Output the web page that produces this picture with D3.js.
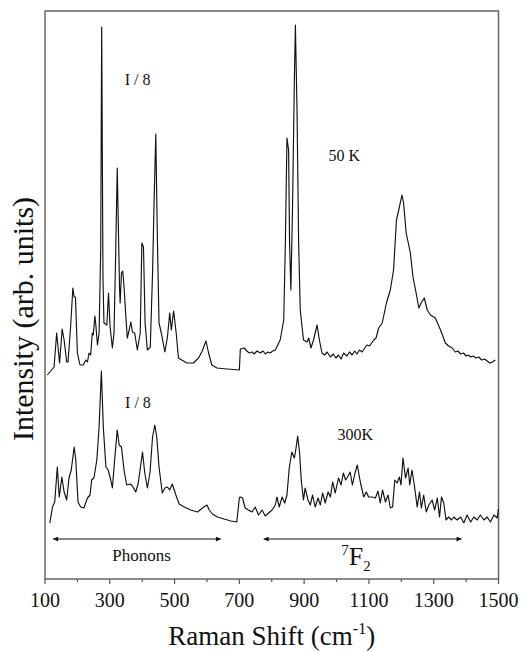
<!DOCTYPE html>
<html>
<head>
<meta charset="utf-8" />
<title>Raman spectra 50 K / 300 K</title>
<script src="https://d3js.org/d3.v7.min.js"></script>
<style>
  body { margin: 0; background: #fff; }
  svg text { font-family: "Liberation Serif", "Times New Roman", serif; }
  .frame { fill: none; stroke: #666; stroke-width: 1.5; }
  .spec { fill: none; stroke: #111; stroke-width: 1.15; stroke-linejoin: round; }
</style>
</head>
<body>
<svg id="chart" width="524" height="652"></svg>
<script>
// Raman shift (cm-1) and intensity (arb. units)
var shift50 = [107,128,136,145,153,159,167,171,179,186,190,194,200,208,218,226,231,236,241,246,249,254,257,262,267,272,275,279,282,
  291,296,301,308,313,318,323,330,332,336,340,344,349,354,360,365,370,377,385,394,399,404,409,416,425,432,437,442,447,452,459,470,478,485,490,497,505,512,522,538,558,574,584,597,605,615,631,662,700,
  703,715,723,731,739,746,754,765,773,780,788,795,803,811,826,837,842,847,852,855,859,864,870,873,878,883,888,898,909,914,921,929,940,947,955,963,971,981,990,998,1006,1014,1022,1032,1040,1048,1056,1063,1071,1079,1087,1094,
  1102,1108,1115,1122,1130,1141,1154,1166,1176,1185,1192,1202,1207,1215,1228,1236,1244,1254,1261,1271,1280,1290,1305,1321,1336,1346,1357,1367,1375,1383,1392,1400,1407,1414,1422,1430,1439,1448,1457,1465,1473,1481,1490,1500];
var int50 = [204,212,246,216,250,239,217,217,252,291,282,282,226,214,214,219,217,226,224,246,244,263,254,234,246,330,552,300,256,
  254,286,252,231,246,322,411,292,276,306,308,292,266,241,249,257,247,246,229,246,336,332,256,229,232,306,380,445,339,256,246,227,242,266,249,268,246,221,219,216,216,221,227,238,226,214,211,210,209,
  230,231,228,226,227,225,228,226,228,225,227,226,228,229,239,259,336,441,429,336,289,369,502,554,469,336,269,239,237,241,231,239,254,239,226,224,227,222,225,221,224,220,226,223,227,224,228,225,229,227,231,234,
  233,236,239,241,251,256,276,289,309,359,369,384,376,346,326,302,289,271,276,281,269,264,261,249,236,233,231,227,228,225,226,223,224,222,223,221,222,219,220,218,216,217,219];

var shift300 = [115,123,130,138,144,152,159,167,174,181,190,195,202,210,220,231,239,244,251,260,267,274,280,288,295,303,308,315,323,329,336,344,352,363,370,380,388,401,408,416,424,432,439,445,452,462,470,478,485,493,504,514,530,550,571,586,600,607,617,632,653,674,692,
  700,703,710,718,728,739,749,759,770,780,790,801,811,816,823,832,840,847,854,862,870,875,880,886,891,898,903,912,919,926,934,943,950,957,965,974,981,988,996,1006,1014,1021,1028,1034,1042,1049,1057,1064,1074,1084,1092,1099,1110,1120,1128,1135,1142,1151,1159,1166,1173,1180,1187,1194,1199,1205,1213,1221,1226,1233,1241,1249,1256,1262,1269,1277,1285,1295,1303,1311,1318,1324,1331,1338,1346,1355,1362,1372,1383,1393,1403,1414,1424,1434,1444,1455,1465,1475,1486,1496,1500];
var int300 = [56,72,77,112,82,102,87,79,101,109,132,119,77,72,71,81,84,99,101,119,152,208,152,112,109,99,91,119,149,134,132,109,94,95,93,87,96,127,106,91,106,142,154,142,112,86,91,92,89,95,84,75,72,69,67,71,74,69,65,62,60,58,57,
  81,82,81,71,69,67,72,64,69,63,66,69,74,82,72,82,76,84,111,127,121,131,143,126,99,79,91,79,74,84,72,81,74,86,76,87,82,97,86,101,94,106,99,102,107,94,106,114,96,82,87,82,82,81,88,76,89,77,84,71,72,99,96,102,94,121,101,111,94,109,92,72,87,71,84,67,74,79,69,81,62,82,76,59,62,59,62,59,62,56,64,57,62,59,64,59,62,57,64,61,70];

var xTicks = [100,300,500,700,900,1100,1300,1500];
var xMinor = [200,400,600,800,1000,1200,1400];

var labels = [
  {text: "I / 8", x: 386, y: 494},
  {text: "50 K", x: 1024, y: 418},
  {text: "I / 8", x: 387, y: 171},
  {text: "300K", x: 1058, y: 139}
];
var phonons = [125, 643];
var f2 = [775, 1386];

var svg = d3.select("#chart"),
    margin = {top: 11, left: 45, right: 25.5, bottom: 73},
    W = 524, H = 652;

var x = d3.scaleLinear().domain([100, 1500]).range([margin.left, W - margin.right]);
var y = d3.scaleLinear().domain([0, 568]).range([H - margin.bottom, margin.top]);

var defs = svg.append("defs");
defs.append("marker")
    .attr("id", "head")
    .attr("viewBox", "0 0 10 10")
    .attr("refX", 10).attr("refY", 5)
    .attr("markerWidth", 10).attr("markerHeight", 5)
    .attr("orient", "auto-start-reverse")
    .attr("markerUnits", "userSpaceOnUse")
  .append("path")
    .attr("d", "M0,0 L10,5 L0,10 Z")
    .attr("fill", "#111");

// frame
svg.append("rect").attr("class", "frame")
    .attr("x", x(100)).attr("y", y(568))
    .attr("width", x(1500) - x(100)).attr("height", y(0) - y(568));

// x ticks
var yb = y(0);
svg.selectAll(".tk").data(xTicks).enter().append("line")
    .attr("x1", function(d) { return x(d); }).attr("x2", function(d) { return x(d); })
    .attr("y1", yb).attr("y2", yb + 5)
    .attr("stroke", "#555").attr("stroke-width", 1.2);
svg.selectAll(".mtk").data(xMinor).enter().append("line")
    .attr("x1", function(d) { return x(d); }).attr("x2", function(d) { return x(d); })
    .attr("y1", yb).attr("y2", yb + 3)
    .attr("stroke", "#555").attr("stroke-width", 1.2);
svg.selectAll(".tl").data(xTicks).enter().append("text")
    .attr("x", function(d) { return x(d); })
    .attr("y", 607)
    .attr("text-anchor", "middle")
    .style("font-size", "20px")
    .style("fill", "#111")
    .text(function(d) { return d; });

// axis titles
var xt = svg.append("text")
    .attr("x", (x(100) + x(1500)) / 2).attr("y", 645)
    .attr("text-anchor", "middle")
    .style("font-size", "27px")
    .style("fill", "#111");
xt.append("tspan").text("Raman Shift (cm");
xt.append("tspan").attr("dy", -11).style("font-size", "16px").text("-1");
xt.append("tspan").attr("dy", 11).text(")");

svg.append("text")
    .attr("transform", "translate(33,319) rotate(-90)")
    .attr("text-anchor", "middle")
    .style("font-size", "30px")
    .style("fill", "#111")
    .text("Intensity (arb. units)");

// spectra
var line = d3.line()
    .x(function(d) { return x(d[0]); })
    .y(function(d) { return y(d[1]); });

svg.append("path").attr("class", "spec")
    .attr("d", line(d3.zip(shift50, int50)));
svg.append("path").attr("class", "spec")
    .attr("d", line(d3.zip(shift300, int300)));

// annotations
svg.selectAll(".ann").data(labels).enter().append("text")
    .attr("x", function(d) { return x(d.x); })
    .attr("y", function(d) { return y(d.y); })
    .attr("text-anchor", "middle")
    .style("font-size", "16px")
    .style("fill", "#111")
    .text(function(d) { return d.text; });

// range arrows
var ya = y(40);
[phonons, f2].forEach(function(r) {
  svg.append("line")
      .attr("x1", x(r[0])).attr("x2", x(r[1]))
      .attr("y1", ya).attr("y2", ya)
      .attr("stroke", "#111").attr("stroke-width", 1)
      .attr("marker-start", "url(#head)")
      .attr("marker-end", "url(#head)");
});
svg.append("text")
    .attr("x", x(398)).attr("y", y(18))
    .attr("text-anchor", "middle")
    .style("font-size", "17px")
    .style("fill", "#111")
    .text("Phonons");
var ft = svg.append("text")
    .attr("x", x(1060)).attr("y", y(14))
    .attr("text-anchor", "middle")
    .style("font-size", "26px")
    .style("fill", "#111");
ft.append("tspan").attr("dy", -10).style("font-size", "15px").text("7");
ft.append("tspan").attr("dy", 10).text("F");
ft.append("tspan").attr("dy", 6).style("font-size", "15px").text("2");
</script>
</body>
</html>
